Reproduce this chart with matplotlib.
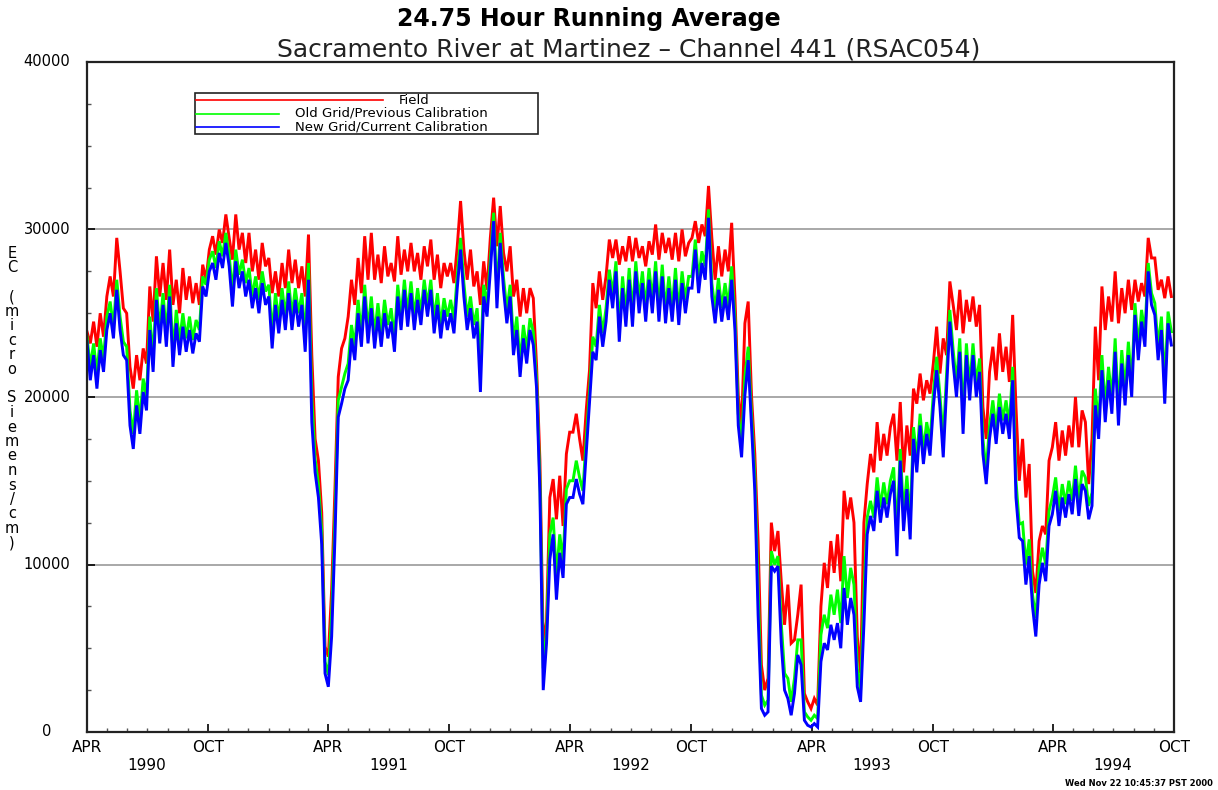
import numpy as np
import pandas as pd
import matplotlib
matplotlib.use("Agg")
import matplotlib.pyplot as plt
import matplotlib.dates as mdates
from matplotlib.lines import Line2D
from matplotlib.patches import Rectangle

# ---------------- data (EC, thousands of micro Siemens/cm, every 5 days from 1990-04-01) ----
start_date = "1990-04-01"
step_days = 5

field = [
    23.9, 23.2, 24.5, 23.0, 25.0, 23.6, 26.0,
    27.2, 26.0, 29.5, 27.5, 25.3, 25.0,
    21.8, 20.5, 22.5, 21.0, 22.9, 22.0,
    26.6, 24.5, 28.4, 26.0, 28.0, 25.8,
    28.8, 25.5, 27.0, 25.0, 27.7, 25.8,
    27.2, 25.6, 26.8, 25.5, 27.9, 27.0,
    28.8, 29.6, 28.5, 30.0, 29.2, 30.9,
    29.5, 28.2, 30.9, 28.8, 29.8, 28.0,
    29.8, 27.5, 28.8, 27.0, 29.2, 27.8,
    28.3, 26.2, 27.5, 26.0, 28.0, 26.5,
    28.8, 26.8, 28.2, 26.5, 27.8, 26.0,
    29.7, 22.5, 17.5, 16.2, 13.1, 5.1, 4.5,
    8.5, 14.5, 21.2, 22.9, 23.5, 24.8,
    27.0, 25.5, 28.3, 26.2, 29.6, 27.0,
    29.8, 27.0, 28.5, 26.8, 29.0, 27.2,
    28.0, 26.9, 29.6, 27.3, 28.8, 27.5,
    29.2, 27.5, 28.6, 27.0, 29.0, 27.8,
    29.4, 27.0, 28.5, 26.5, 28.0, 27.2,
    28.0, 26.8, 29.0, 31.7, 28.8, 27.0,
    28.8, 26.6, 27.5, 25.5, 28.1, 26.4,
    29.5, 31.9, 29.0, 31.4, 28.6, 27.5,
    29.0, 26.0, 27.0, 24.8, 26.5, 25.0,
    26.5, 25.9, 21.8, 16.2, 5.3, 6.6, 14.0,
    15.1, 12.7, 15.3, 12.3, 16.6, 17.9,
    17.9, 19.0, 17.5, 16.2, 19.2, 21.6,
    26.8, 25.3, 27.5, 25.8, 27.2, 29.4,
    28.3, 29.4, 27.9, 29.0, 28.1, 29.6,
    28.1, 29.5, 28.3, 29.0, 27.8, 29.3,
    28.5, 30.3, 28.2, 29.8, 28.6, 29.5,
    28.2, 29.8, 28.1, 30.0, 28.4, 29.2,
    29.5, 30.5, 29.2, 30.3, 29.6, 32.6,
    29.5, 27.0, 29.0, 27.2, 28.8, 27.5,
    30.4, 25.9, 20.1, 18.3, 24.4, 25.7,
    20.1, 16.6, 11.4, 4.0, 2.5, 3.2, 12.5,
    10.8, 12.0, 9.0, 6.4, 8.8, 5.3,
    5.5, 7.0, 8.8, 2.3, 1.8, 1.4,
    2.0, 1.6, 7.5, 10.1, 8.6, 11.4,
    9.5, 11.8, 9.0, 14.4, 12.7, 14.0,
    12.5, 5.7, 3.5, 12.5, 14.8, 16.6,
    15.5, 18.5, 16.2, 17.8, 16.5, 18.2,
    19.0, 16.2, 19.7, 15.5, 18.3, 16.5,
    20.5, 19.6, 21.4, 19.8, 21.0, 20.2,
    22.0, 24.2, 21.4, 23.5, 22.5, 26.9,
    25.5, 24.0, 26.4, 23.8, 25.8, 24.5,
    26.0, 24.2, 25.5, 19.4, 17.5, 21.5, 23.0,
    21.0, 23.8, 21.5, 23.0, 20.9, 24.9,
    19.4, 15.0, 17.5, 14.0, 16.0, 9.6,
    8.3, 11.4, 12.3, 11.8, 16.2, 17.0,
    18.5, 16.2, 18.0, 16.5, 18.3, 17.0,
    20.0, 17.0, 19.2, 18.5, 14.8, 17.5,
    24.2, 21.0, 26.6, 24.0, 26.0, 24.5,
    27.5, 24.4, 26.5, 25.0, 27.0, 25.2,
    27.0, 25.7, 26.8, 26.0, 29.5, 28.3,
    28.3, 26.4, 27.0, 25.9, 27.2, 26.0,
]

old_grid = [
    23.6, 21.8, 23.2, 21.4, 23.5, 22.3, 24.8,
    25.7, 24.2, 27.0, 24.8, 23.3, 23.0,
    19.2, 17.8, 20.4, 18.6, 21.1, 20.0,
    24.8, 22.3, 26.5, 24.0, 26.2, 23.8,
    26.7, 22.6, 25.2, 23.3, 25.0, 23.5,
    24.8, 23.4, 24.6, 24.0, 27.2, 26.7,
    28.2, 28.7, 27.7, 29.3, 28.4, 29.8,
    28.5, 26.2, 28.8, 27.3, 28.2, 26.8,
    27.7, 26.0, 27.2, 25.8, 27.5, 26.3,
    26.7, 23.8, 26.2, 24.6, 26.5, 24.8,
    26.9, 24.8, 26.5, 25.0, 26.2, 23.5,
    28.0, 20.0, 16.3, 14.8, 12.0, 4.2, 3.4,
    7.0, 12.8, 19.8, 20.6, 21.4, 22.0,
    24.3, 23.0, 25.8, 23.8, 26.7, 24.0,
    26.0, 23.7, 25.6, 23.8, 25.8, 24.3,
    25.3, 23.5, 26.7, 24.8, 27.0, 25.0,
    26.9, 24.8, 26.5, 25.0, 27.0, 25.5,
    27.0, 24.6, 26.2, 24.3, 25.9, 24.8,
    25.8, 24.6, 27.3, 29.5, 26.8, 24.8,
    26.0, 24.3, 25.3, 22.0, 26.7, 25.5,
    28.2, 31.0, 26.2, 29.8, 27.1, 25.2,
    26.7, 23.3, 24.8, 22.0, 24.3, 22.8,
    24.7, 23.9, 21.0, 15.0, 3.8, 5.9, 11.8,
    12.8, 9.3, 11.8, 10.2, 14.5, 15.0,
    15.0, 16.2, 15.2, 14.4, 17.5, 20.3,
    23.6, 23.0, 25.5, 23.8, 25.3, 27.6,
    26.1, 28.1, 24.1, 27.2, 25.0, 27.7,
    25.0, 28.1, 25.8, 27.5, 25.3, 27.7,
    25.8, 28.1, 25.3, 27.9, 25.2, 27.2,
    25.3, 27.7, 25.1, 27.5, 25.8, 27.2,
    27.2, 29.4, 27.0, 28.7, 27.8, 31.2,
    26.8, 25.2, 27.1, 25.3, 26.8, 25.4,
    27.8, 24.7, 19.0, 17.2, 21.2, 23.0,
    19.0, 15.3, 8.5, 2.2, 1.6, 1.9, 10.8,
    10.0, 10.5, 6.5, 3.5, 3.2, 1.8,
    3.2, 5.5, 5.5, 1.2, 0.9, 0.7,
    1.0, 0.8, 5.8, 7.0, 6.2, 8.2,
    7.0, 8.5, 6.5, 10.5, 8.0, 9.8,
    8.8, 3.8, 2.5, 8.2, 12.8, 13.8,
    12.8, 15.2, 13.4, 14.9, 13.6, 15.0,
    15.8, 11.8, 16.9, 13.0, 15.3, 12.5,
    18.2, 16.3, 19.0, 16.8, 18.5, 17.3,
    20.2, 22.4, 20.1, 17.5, 21.3, 25.2,
    22.8, 20.8, 23.5, 18.8, 23.2, 20.6,
    23.2, 20.8, 22.3, 17.5, 15.6, 18.3, 19.8,
    18.0, 20.2, 18.6, 19.8, 18.3, 21.8,
    15.0, 12.4, 12.5, 10.0, 11.5, 8.2,
    6.8, 9.8, 11.0, 10.0, 13.2, 14.0,
    15.2, 13.2, 14.8, 13.6, 15.0, 13.8,
    15.9, 13.8, 15.6, 15.2, 13.5, 14.3,
    20.5, 18.3, 22.5, 19.4, 21.8, 19.9,
    23.5, 19.2, 22.8, 20.4, 23.3, 20.8,
    25.6, 23.0, 25.2, 23.8, 28.0, 26.2,
    25.6, 23.0, 24.8, 20.8, 25.1, 23.9,
]

new_grid = [
    23.3, 21.0, 22.5, 20.5, 22.8, 21.5, 24.0,
    25.0, 23.5, 26.4, 24.0, 22.5, 22.2,
    18.3, 16.9, 19.5, 17.8, 20.3, 19.2,
    24.0, 21.5, 25.8, 23.2, 25.5, 23.0,
    26.0, 21.8, 24.4, 22.5, 24.2, 22.7,
    24.0, 22.6, 23.8, 23.3, 26.6, 26.0,
    27.5, 28.0, 27.0, 28.6, 27.7, 29.2,
    27.8, 25.4, 28.1, 26.5, 27.5, 26.0,
    27.0, 25.3, 26.5, 25.0, 26.8, 25.5,
    26.0, 22.9, 25.5, 23.8, 25.8, 24.0,
    26.2, 24.0, 25.8, 24.2, 25.5, 22.7,
    27.0, 18.5, 15.5, 14.0, 11.2, 3.5, 2.7,
    5.7, 11.6, 18.8, 19.6, 20.5, 21.0,
    23.5, 22.2, 25.0, 23.0, 26.0, 23.2,
    25.3, 22.9, 24.8, 23.0, 25.0, 23.5,
    24.5, 22.7, 26.0, 24.0, 26.4, 24.2,
    26.2, 24.0, 25.8, 24.3, 26.4, 24.8,
    26.4, 23.8, 25.5, 23.5, 25.2, 24.0,
    25.0, 23.8, 26.5, 28.8, 26.0, 24.0,
    25.3, 23.5, 24.5, 20.3, 26.0, 24.8,
    27.5, 30.5, 25.3, 29.2, 26.4, 24.4,
    26.0, 22.5, 24.0, 21.2, 23.5, 22.0,
    24.0, 23.1, 20.5, 14.3, 2.5, 5.3, 10.3,
    11.8, 7.9, 10.7, 9.2, 13.6, 14.0,
    14.0, 15.1, 14.2, 13.6, 16.6, 19.6,
    22.7, 22.2, 24.8, 23.0, 24.5, 27.0,
    25.3, 27.5, 23.3, 26.5, 24.2, 27.0,
    24.2, 27.5, 25.0, 26.8, 24.5, 27.0,
    25.0, 27.5, 24.5, 27.2, 24.4, 26.5,
    24.5, 27.0, 24.3, 26.8, 25.0, 26.5,
    26.5, 28.8, 26.2, 28.0, 27.0, 30.7,
    26.0, 24.4, 26.4, 24.5, 26.0, 24.6,
    27.0, 24.0, 18.3, 16.4, 20.1, 22.2,
    18.3, 14.4, 7.0, 1.4, 1.0, 1.2, 9.9,
    9.6, 9.9, 5.3, 2.5, 2.0, 1.0,
    2.3, 4.6, 4.0, 0.7, 0.4, 0.3,
    0.5, 0.3, 4.2, 5.3, 4.9, 6.4,
    5.5, 6.5, 5.0, 8.6, 6.4, 8.0,
    7.0, 2.7, 1.8, 6.4, 11.8, 12.9,
    12.0, 14.4, 12.5, 14.0, 12.8, 14.2,
    15.0, 10.5, 16.2, 12.0, 14.5, 11.5,
    17.5, 15.5, 18.3, 16.0, 17.8, 16.5,
    19.4, 21.6, 19.4, 16.4, 20.5, 24.5,
    22.0, 20.0, 22.7, 17.8, 22.5, 19.8,
    22.5, 20.0, 21.5, 16.6, 14.8, 17.5, 19.0,
    17.2, 19.4, 17.8, 19.0, 17.5, 21.0,
    14.0, 11.6, 11.4, 8.8, 10.5, 7.5,
    5.7, 8.8, 10.1, 9.0, 12.3, 13.0,
    14.4, 12.3, 14.0, 12.8, 14.2, 13.0,
    15.1, 12.9, 14.8, 14.4, 12.7, 13.5,
    19.5, 17.5, 21.6, 18.5, 21.0, 19.0,
    22.7, 18.3, 22.0, 19.5, 22.5, 20.0,
    24.9, 22.2, 24.5, 23.0, 27.5, 25.5,
    24.9, 22.2, 24.0, 19.6, 24.4, 23.1,
]

series_names = ["Field", "Old Grid/Previous Calibration", "New Grid/Current Calibration"]
series_colors = ["#ff0000", "#00ff00", "#0000ff"]
month_labels = ["APR", "OCT", "APR", "OCT", "APR", "OCT", "APR", "OCT", "APR", "OCT"]
year_labels = ["1990", "1991", "1992", "1993", "1994"]
y_ticks = [0, 10000, 20000, 30000, 40000]

title = "24.75 Hour Running Average"
subtitle = "Sacramento River at Martinez \u2013 Channel 441 (RSAC054)"
ylabel_text = "EC (micro Siemens/cm)"
stamp = "Wed Nov 22 10:45:37 PST 2000"

# ---------------- figure ----------------
W, H = 1218, 790
fig = plt.figure(figsize=(W / 100, H / 100), dpi=100)
fig.patch.set_facecolor("white")

def fx(x):
    return x / W

def fy(y):
    return 1 - y / H

ax = fig.add_axes([fx(87), fy(732), fx(1174) - fx(87), fy(62) - fy(732)])

dates = pd.date_range(start_date, periods=len(field), freq=f"{step_days}D")
for vals, col in zip([field, old_grid, new_grid], series_colors):
    ax.plot(dates, np.asarray(vals) * 1000.0, color=col, lw=2.1, solid_joinstyle="miter")

x0 = pd.Timestamp("1990-04-01")
x1 = pd.Timestamp("1994-10-01")
ax.set_xlim(x0, x1)
ax.set_ylim(0, 40000)

# grid lines
for v in y_ticks[1:-1]:
    ax.axhline(v, color="#a8a8a8", lw=1.4, zorder=0)

# ticks
ax.xaxis.set_major_locator(mdates.MonthLocator(bymonth=[4, 10]))
ax.xaxis.set_minor_locator(mdates.MonthLocator())
ax.xaxis.set_major_formatter(plt.NullFormatter())
ax.set_yticks(y_ticks)
ax.set_yticklabels([])
ax.yaxis.set_minor_locator(plt.MultipleLocator(2500))
ax.tick_params(axis="both", which="major", direction="in", length=6, width=1.2, color="black")
ax.tick_params(axis="both", which="minor", direction="in", length=3, width=1.0, color="#555555")
ax.tick_params(top=False, right=False, which="both")
for s in ax.spines.values():
    s.set_linewidth(1.6)
    s.set_color("#222222")

font = "DejaVu Sans"
# y tick labels (centered at x=47 px)
for v in y_ticks:
    ypix = 732 - v / 40000 * 670
    fig.text(fx(47), fy(ypix), f"{v}", ha="center", va="center", fontsize=10.5, family=font)

# x tick labels
major_dates = pd.date_range("1990-04-01", "1994-10-01", freq="6MS")
for d, lab in zip(major_dates, month_labels):
    xd = mdates.date2num(d)
    ax.text(xd, -0.023, lab, transform=ax.get_xaxis_transform(), ha="center", va="center",
            fontsize=11, family=font)
for k, lab in enumerate(year_labels):
    xd = mdates.date2num(pd.Timestamp(f"{1990 + k}-07-01"))
    ax.text(xd, -0.050, lab, transform=ax.get_xaxis_transform(), ha="center", va="center",
            fontsize=11, family=font)

# titles
fig.text(fx(589), fy(19), title, ha="center", va="center", fontsize=17, fontweight="bold", family=font)
fig.text(fx(629), fy(49), subtitle, ha="center", va="center", fontsize=18, family=font, color="#222222")

# stacked y label
yy = 253
for ch in ylabel_text:
    if ch != " ":
        fig.text(fx(12), fy(yy), ch, ha="center", va="center", fontsize=10.5, family=font)
    yy += 14.5

# legend drawn as a small box in figure pixels
fig.add_artist(Rectangle((fx(195), fy(134)), fx(538) - fx(195), fy(93) - fy(134),
                         transform=fig.transFigure, fill=False, ec="#222222", lw=1.2))
leg_rows = [(100, 383, 399), (113.5, 279, 295), (127, 279, 295)]
for (ypix, xend, xtxt), name, col in zip(leg_rows, series_names, series_colors):
    fig.add_artist(Line2D([fx(196), fx(xend)], [fy(ypix), fy(ypix)], transform=fig.transFigure,
                          color=col, lw=1.2))
    fig.text(fx(xtxt), fy(ypix), name, ha="left", va="center", fontsize=9.5, family=font)

fig.text(fx(1213), fy(783), stamp, ha="right", va="center", fontsize=6, fontweight="bold", family=font)

fig.savefig("out.png", dpi=100, facecolor="white")
